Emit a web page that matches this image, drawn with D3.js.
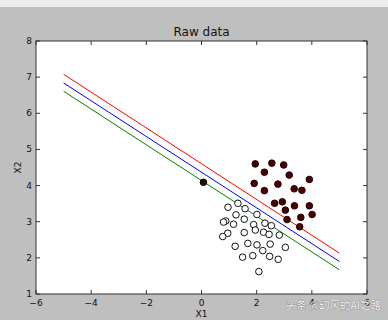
<!DOCTYPE html>
<html><head><meta charset="utf-8">
<script src="https://cdn.jsdelivr.net/npm/d3@7"></script>
<style>body{margin:0;background:#bfbfbf;overflow:hidden}svg{display:block}</style>
</head><body>
<svg id="c" width="388" height="320"></svg>
<script>
const title = "Raw data";
const xLabel = "X1", yLabel = "X2";
const xTicks = [-6, -4, -2, 0, 2, 4, 6];
const yTicks = [1, 2, 3, 4, 5, 6, 7, 8];
// class 1 (dark red filled)
const posX = [1.95,2.55,2.98,2.28,3.18,3.91,1.91,2.77,2.28,3.36,3.64,2.65,2.93,3.37,3.91,3.04,4.01,3.10,3.60,3.56];
const posY = [4.60,4.62,4.57,4.37,4.29,4.17,4.06,4.04,3.86,3.91,3.87,3.51,3.55,3.44,3.44,3.32,3.20,3.06,3.12,2.86];
// class 0 (open circles)
const negX = [1.32,0.96,1.58,1.25,2.01,0.88,0.80,1.16,1.55,1.89,2.30,2.53,1.95,2.25,2.45,1.55,0.95,0.77,2.82,1.68,1.22,2.01,2.49,2.22,3.04,1.49,1.86,2.47,2.78,2.08];
const negY = [3.51,3.40,3.36,3.19,3.20,3.02,2.99,2.93,3.07,2.92,2.96,2.89,2.77,2.71,2.65,2.70,2.68,2.59,2.63,2.40,2.32,2.36,2.38,2.20,2.29,2.02,2.06,2.04,1.96,1.62];
// outlier point (black)
const outX = [0.07], outY = [4.09];
// separating lines: x range and y endpoints
const lineX = [-5, 5];
const lineNames = ["upper", "mid", "lower"];
const lineColors = ["#ff0000", "#0000ff", "#008000"];
const lineY = [[7.08, 2.13], [6.84, 1.90], [6.61, 1.67]];

const svg = d3.select("#c");
// toolbar strip
svg.append("rect").attr("x",0).attr("y",0).attr("width",388).attr("height",7).attr("fill","#ececec");

const L = 36, R = 367, T = 41, B = 294;
const x = d3.scaleLinear().domain([-6, 6]).range([L, R]);
const y = d3.scaleLinear().domain([1, 8]).range([B, T]);

svg.append("rect").attr("x",L).attr("y",T).attr("width",R-L).attr("height",B-T).attr("fill","#fff");

const g = svg.append("g");
const fmt = d => d < 0 ? "\u2212" + Math.abs(d) : String(d);
// ticks inside (bottom/top/left/right)
const tl = 4;
xTicks.forEach(t => {
  g.append("line").attr("x1",x(t)).attr("x2",x(t)).attr("y1",B).attr("y2",B-tl).attr("stroke","#333");
  g.append("line").attr("x1",x(t)).attr("x2",x(t)).attr("y1",T).attr("y2",T+tl).attr("stroke","#333");
  g.append("text").attr("x",x(t)).attr("y",B+12).attr("text-anchor","middle")
   .attr("font-family","DejaVu Sans").attr("font-size",9).attr("fill","#111").text(fmt(t));
});
yTicks.forEach(t => {
  g.append("line").attr("x1",L).attr("x2",L+tl).attr("y1",y(t)).attr("y2",y(t)).attr("stroke","#333");
  g.append("line").attr("x1",R).attr("x2",R-tl).attr("y1",y(t)).attr("y2",y(t)).attr("stroke","#333");
  g.append("text").attr("x",L-4).attr("y",y(t)+3).attr("text-anchor","end")
   .attr("font-family","DejaVu Sans").attr("font-size",9).attr("fill","#111").text(fmt(t));
});

// lines
const line = d3.line().x(d => x(d[0])).y(d => y(d[1]));
lineY.forEach((ys, i) => {
  svg.append("path").datum(lineX.map((xv, j) => [xv, ys[j]]))
    .attr("d", line).attr("fill","none").attr("stroke", lineColors[i]).attr("stroke-width",1);
});

// points
negX.forEach((xv, i) => {
  svg.append("circle").attr("cx",x(xv)).attr("cy",y(negY[i])).attr("r",3.3)
    .attr("fill","#fff").attr("stroke","#111").attr("stroke-width",1);
});
posX.forEach((xv, i) => {
  svg.append("circle").attr("cx",x(xv)).attr("cy",y(posY[i])).attr("r",3.3)
    .attr("fill","#4a0000").attr("stroke","#1a0000").attr("stroke-width",1);
});
outX.forEach((xv, i) => {
  svg.append("circle").attr("cx",x(xv)).attr("cy",y(outY[i])).attr("r",3.3)
    .attr("fill","#1a120a").attr("stroke","#000").attr("stroke-width",1);
});

// frame
svg.append("rect").attr("x",L).attr("y",T).attr("width",R-L).attr("height",B-T)
  .attr("fill","none").attr("stroke","#333").attr("stroke-width",1);

// texts
svg.append("text").attr("x",(L+R)/2).attr("y",T-5).attr("text-anchor","middle")
  .attr("font-family","DejaVu Sans").attr("font-size",12).attr("fill","#111").text(title);
svg.append("text").attr("x",(L+R)/2).attr("y",317).attr("text-anchor","middle")
  .attr("font-family","DejaVu Sans").attr("font-size",9).attr("fill","#111").text(xLabel);
svg.append("text").attr("transform",`translate(21,${(T+B)/2}) rotate(-90)`).attr("text-anchor","middle")
  .attr("font-family","DejaVu Sans").attr("font-size",9).attr("fill","#111").text(yLabel);
// watermark
svg.append("text").attr("x",381).attr("y",309).attr("text-anchor","end")
  .attr("font-family","Noto Sans CJK SC").attr("font-size",10.5).attr("fill","#f4f4f4")
  .attr("stroke","#777").attr("stroke-width",0.6).attr("paint-order","stroke")
  .text("头条 @幻风的AI之路");
</script>
</body></html>
